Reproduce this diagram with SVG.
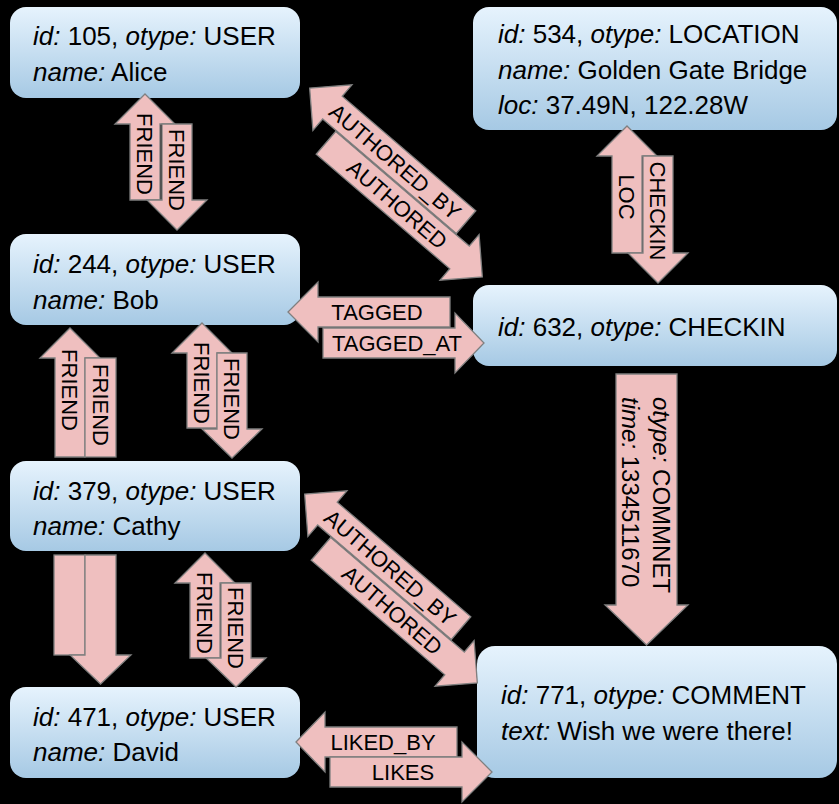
<svg xmlns="http://www.w3.org/2000/svg" width="839" height="804" viewBox="0 0 839 804">
<defs>
<linearGradient id="ng" x1="0" y1="0" x2="0" y2="1">
<stop offset="0" stop-color="#e6f3fd"/>
<stop offset="1" stop-color="#a6c9e4"/>
</linearGradient>
<style>
.node rect{fill:url(#ng);stroke:none}
.t{font-family:"Liberation Sans",Arial,sans-serif;font-size:26px;fill:#000}
.i{font-style:italic}
.arr{fill:#efbfbf;stroke:#7f7f7f;stroke-width:1.3;stroke-linejoin:miter}
.lbl{font-family:"Liberation Sans",Arial,sans-serif;font-size:22px;fill:#000;text-anchor:middle}
.lbl2{font-family:"Liberation Sans",Arial,sans-serif;font-size:24px;fill:#000}
</style>
</defs>
<rect x="0" y="0" width="839" height="804" fill="#000"/>

<g id="n105" class="node">
<rect x="10" y="7" width="290" height="91" rx="16"/>
<text class="t" x="33" y="45"><tspan class="i">id:</tspan> 105, <tspan class="i">otype:</tspan> USER</text>
<text class="t" x="33" y="81"><tspan class="i">name:</tspan> Alice</text>
</g>
<g id="n534" class="node">
<rect x="473" y="7" width="364" height="123" rx="16"/>
<text class="t" x="498" y="43"><tspan class="i">id:</tspan> 534, <tspan class="i">otype:</tspan> LOCATION</text>
<text class="t" x="498" y="79"><tspan class="i">name:</tspan> Golden Gate Bridge</text>
<text class="t" x="498" y="114"><tspan class="i">loc:</tspan> 37.49N, 122.28W</text>
</g>
<g id="n244" class="node">
<rect x="10" y="234" width="290" height="91" rx="16"/>
<text class="t" x="33" y="273"><tspan class="i">id:</tspan> 244, <tspan class="i">otype:</tspan> USER</text>
<text class="t" x="33" y="309"><tspan class="i">name:</tspan> Bob</text>
</g>
<g id="n632" class="node">
<rect x="473" y="285" width="364" height="81" rx="16"/>
<text class="t" x="498" y="336"><tspan class="i">id:</tspan> 632, <tspan class="i">otype:</tspan> CHECKIN</text>
</g>
<g id="n379" class="node">
<rect x="10" y="461" width="290" height="90" rx="16"/>
<text class="t" x="33" y="500"><tspan class="i">id:</tspan> 379, <tspan class="i">otype:</tspan> USER</text>
<text class="t" x="33" y="535"><tspan class="i">name:</tspan> Cathy</text>
</g>
<g id="n471" class="node">
<rect x="10" y="687" width="290" height="91" rx="16"/>
<text class="t" x="33" y="726"><tspan class="i">id:</tspan> 471, <tspan class="i">otype:</tspan> USER</text>
<text class="t" x="33" y="761"><tspan class="i">name:</tspan> David</text>
</g>
<g id="n771" class="node">
<rect x="477" y="646" width="360" height="132" rx="18"/>
<text class="t" x="501" y="704"><tspan class="i">id:</tspan> 771, <tspan class="i">otype:</tspan> COMMENT</text>
<text class="t" x="501" y="740"><tspan class="i">text:</tspan> Wish we were there!</text>
</g>

<g id="connectors">
<g id="e-alice-bob">
<polygon class="arr" points="145,94 175,124 160,124 160,200 130,200 130,124 115,124"/>
<polygon class="arr" points="162,124 192,124 192,200 207,200 177,230 147,200 162,200"/>
<text class="lbl" transform="translate(145,154) rotate(90)" y="8">FRIEND</text>
<text class="lbl" transform="translate(177,170) rotate(90)" y="8">FRIEND</text>
</g>
<g id="e-bob-cathy-1">
<polygon class="arr" points="70,328 100,358 85,358 85,457 55,457 55,358 40,358"/>
<rect class="arr" x="85" y="358" width="31" height="99"/>
<text class="lbl" transform="translate(70,390) rotate(90)" y="8">FRIEND</text>
<text class="lbl" transform="translate(100.5,405) rotate(90)" y="8">FRIEND</text>
</g>
<g id="e-bob-cathy-2">
<polygon class="arr" points="202,323 232,353 217,353 217,428 187,428 187,353 172,353"/>
<polygon class="arr" points="217,353 247,353 247,429 262,429 232,458 202,429 217,429"/>
<text class="lbl" transform="translate(202,383) rotate(90)" y="8">FRIEND</text>
<text class="lbl" transform="translate(232,399) rotate(90)" y="8">FRIEND</text>
</g>
<g id="e-cathy-david-1">
<rect class="arr" x="54" y="555" width="31" height="100"/>
<polygon class="arr" points="85,555 116,555 116,655 131,655 100.5,684 70,655 85,655"/>
</g>
<g id="e-cathy-david-2">
<polygon class="arr" points="205,553 235,583 220,583 220,658 190,658 190,583 175,583"/>
<polygon class="arr" points="221,583 251,583 251,658 266,658 236,687 206,658 221,658"/>
<text class="lbl" transform="translate(205,613) rotate(90)" y="8">FRIEND</text>
<text class="lbl" transform="translate(236,628) rotate(90)" y="8">FRIEND</text>
</g>
<g id="e-loc-checkin">
<polygon class="arr" points="627,126 657,156 642,156 642,253 612,253 612,156 597,156"/>
<polygon class="arr" points="643,156 673,156 673,253 688,253 658,283 628,253 643,253"/>
<text class="lbl" transform="translate(627,197) rotate(90)" y="8">LOC</text>
<text class="lbl" transform="translate(658,211) rotate(90)" y="8">CHECKIN</text>
</g>
<g id="e-checkin-comment">
<polygon class="arr" points="616,374 677,374 677,605 688,605 646.5,645 605,605 616,605"/>
<text class="lbl2" transform="translate(661,397) rotate(90)" y="8"><tspan class="i">otype:</tspan> COMMNET</text>
<text class="lbl2" transform="translate(630,397) rotate(90)" y="8"><tspan class="i">time:</tspan> 1334511670</text>
</g>
<g id="e-bob-checkin">
<polygon class="arr" points="288,312 318,282 318,297 450,297 450,327 318,327 318,342"/>
<polygon class="arr" points="323,328 455,328 455,313 484,343 455,373 455,358 323,358"/>
<text class="lbl" x="377" y="320">TAGGED</text>
<text class="lbl" x="397" y="351">TAGGED_AT</text>
</g>
<g id="e-david-comment">
<polygon class="arr" points="296,742 325,712 325,727 457,727 457,757 325,757 325,772"/>
<polygon class="arr" points="330,757 462,757 462,742 492,772 462,802 462,787 330,787"/>
<text class="lbl" x="383" y="750">LIKED_BY</text>
<text class="lbl" x="403" y="780">LIKES</text>
</g>
<g id="e-alice-checkin" transform="translate(396,182.5) rotate(40.6)">
<polygon class="arr" points="-79,0.5 97,0.5 97,-14.5 127,15.5 97,45.5 97,30.5 -79,30.5"/>
<polygon class="arr" points="-127,-15.5 -97,-45.5 -97,-30.5 79,-30.5 79,-0.5 -97,-0.5 -97,14.5"/>
<text class="lbl" x="-14" y="-7.5">AUTHORED_BY</text>
<text class="lbl" x="15" y="23.5">AUTHORED</text>
</g>
<g id="e-cathy-comment" transform="translate(391,588.5) rotate(40.6)">
<polygon class="arr" points="-79,0.5 97,0.5 97,-14.5 127,15.5 97,45.5 97,30.5 -79,30.5"/>
<polygon class="arr" points="-127,-15.5 -97,-45.5 -97,-30.5 79,-30.5 79,-0.5 -97,-0.5 -97,14.5"/>
<text class="lbl" x="-14" y="-7.5">AUTHORED_BY</text>
<text class="lbl" x="15" y="23.5">AUTHORED</text>
</g>
</g>
</svg>
